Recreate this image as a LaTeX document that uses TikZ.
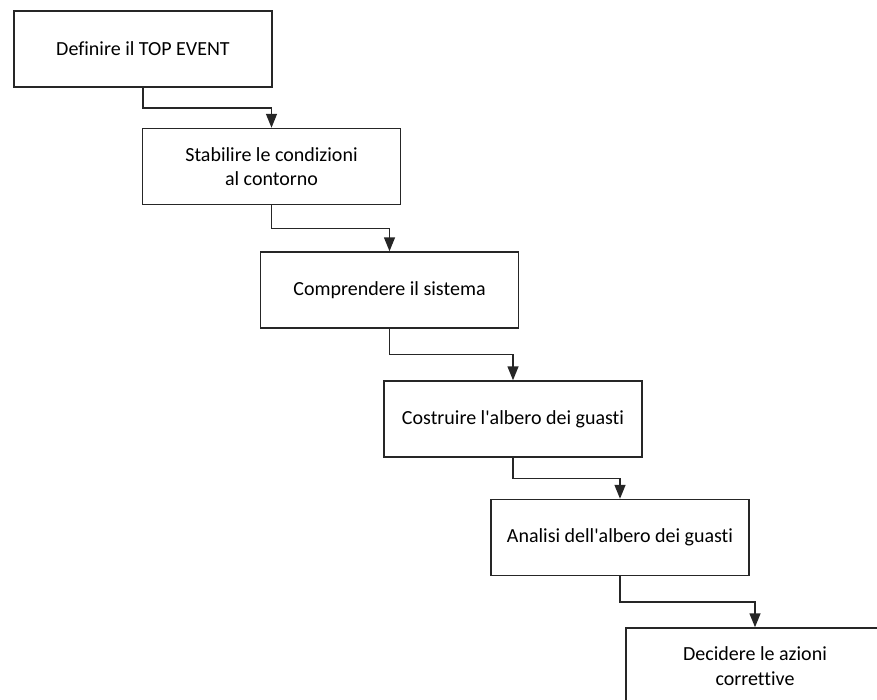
\documentclass[tikz,border=0pt]{standalone}
\usepackage{fontspec}
\setmainfont{Carlito}[Ligatures={NoCommon}]
\usetikzlibrary{arrows.meta,calc}
\newcommand{\apos}{\textquotesingle}
\begin{document}
\begin{tikzpicture}[x=1pt,y=-1pt,
  stepbox/.style={draw=black!85, line width=1.5pt, fill=white,
    minimum width=258pt, minimum height=76pt, inner sep=0pt,
    align=center, font=\fontsize{20}{24.4}\selectfont},
  link/.style={draw=black!85, line width=1.5pt,
    -{Triangle[length=14pt,width=11pt]}}]
\useasboundingbox (0,0) rectangle (877,699);
\clip (0,0) rectangle (877,699);
\node[stepbox] (s1) at (143,49)    {Definire il TOP EVENT};
\node[stepbox] (s2) at (271.5,166.5) {Stabilire le condizioni\\al contorno};
\node[stepbox] (s3) at (389.5,290) {Comprendere il sistema};
\node[stepbox] (s4) at (513,419)   {Costruire l\apos albero dei guasti};
\node[stepbox] (s5) at (620,537.5) {Analisi dell\apos albero dei guasti};
\node[stepbox] (s6) at (755,666)   {Decidere le azioni\\correttive};
\foreach \a/\b in {s1/s2,s2/s3,s3/s4,s4/s5,s5/s6}
  \draw[link] (\a.south) |- ($(\a.south)!.5!(\b.north)$) -| (\b.north);
\end{tikzpicture}
\end{document}
